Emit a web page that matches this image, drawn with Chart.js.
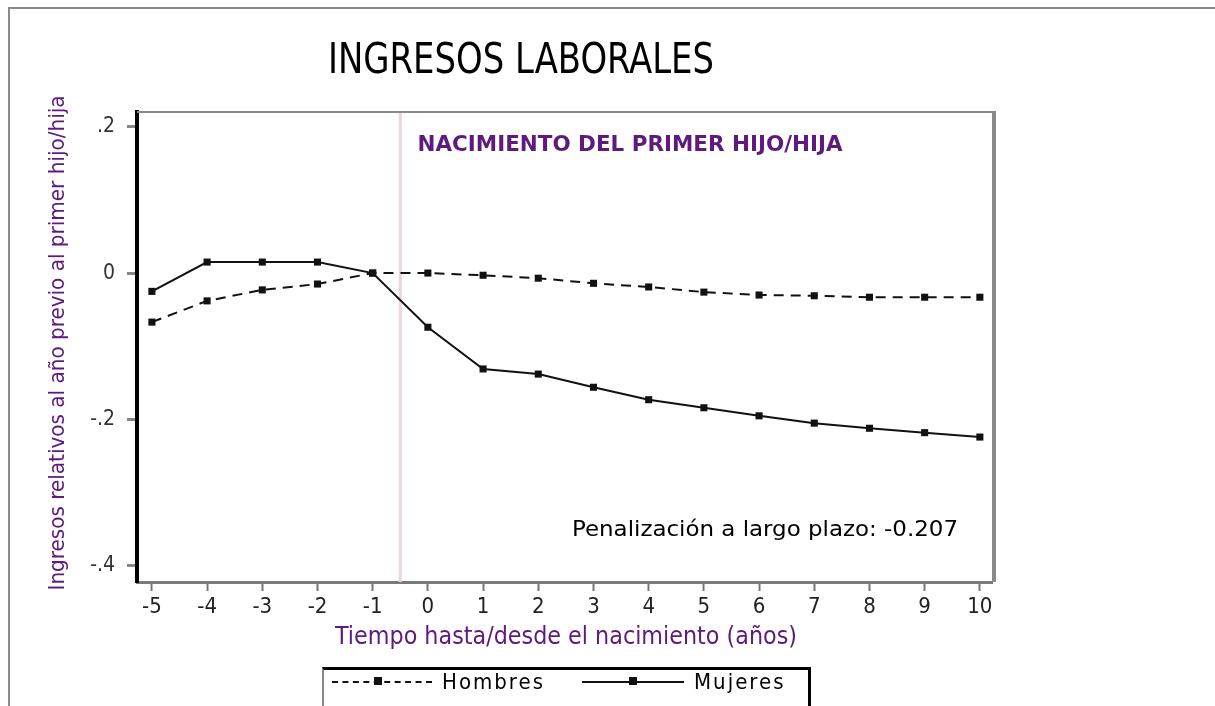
<!DOCTYPE html>
<html>
<head>
<meta charset="utf-8">
<script src="https://cdn.jsdelivr.net/npm/chart.js@4/dist/chart.umd.min.js"></script>
<style>
  html, body { margin: 0; padding: 0; background: #fff; }
  #wrap { position: relative; width: 1215px; height: 706px; overflow: hidden; }
  #frame { position: absolute; left: 8px; top: 7px; width: 1215px; height: 720px;
           border-left: 2px solid #8a8a8a; border-top: 2px solid #8a8a8a; }
  #chart { position: absolute; left: 0; top: 0; }
  #legend { position: absolute; left: 322px; top: 667px; width: 484px; height: 60px;
            border-top: 3px solid #000; border-right: 3px solid #000; border-left: 2px solid #888;
            font-family: 'Liberation Sans Narrow', 'DejaVu Sans Condensed', sans-serif; font-size: 22px; color: #000; }
  .sample { position: absolute; top: 11px; height: 0; }
  .mk { position: absolute; top: 7px; width: 8px; height: 8px; background: #111; }
  .lbl { position: absolute; top: 0; line-height: 24px; letter-spacing: 2px; }
</style>
</head>
<body>
<div id="wrap">
  <div id="frame"></div>
  <canvas id="chart" width="1215" height="706"></canvas>
  <div id="legend">
    <div class="sample" style="left:8px;width:100px;border-top:2px dashed #111;"></div>
    <div class="mk" style="left:50px;"></div>
    <div class="lbl" style="left:118px;">Hombres</div>
    <div class="sample" style="left:258px;width:102px;border-top:2px solid #111;"></div>
    <div class="mk" style="left:305px;"></div>
    <div class="lbl" style="left:370px;">Mujeres</div>
  </div>
</div>
<script>
// años relativos al nacimiento del primer hijo
const anios = [-5, -4, -3, -2, -1, 0, 1, 2, 3, 4, 5, 6, 7, 8, 9, 10];
const hombres = [-0.067, -0.038, -0.023, -0.015, 0, 0, -0.003, -0.007, -0.014, -0.019, -0.026, -0.030, -0.031, -0.033, -0.033, -0.033];
const mujeres = [-0.025, 0.015, 0.015, 0.015, 0, -0.074, -0.131, -0.138, -0.156, -0.173, -0.184, -0.195, -0.205, -0.212, -0.218, -0.224];
const yTicks = [-0.4, -0.2, 0, 0.2];
const yTickLabels = ['-.4', '-.2', '0', '.2'];
const xTicks = anios;
const lineaNacimiento = -0.5;

const titulo = 'INGRESOS LABORALES';
const anotacion = 'NACIMIENTO DEL PRIMER HIJO/HIJA';
const penalizacion = 'Penalización a largo plazo: -0.207';
const tituloX = 'Tiempo hasta/desde el nacimiento (años)';
const tituloY = 'Ingresos relativos al año previo al primer hijo/hija';

const morado = '#5e1a7c';
const fuente = "'Liberation Sans Narrow', 'DejaVu Sans Condensed', sans-serif";

// dibuja un texto ajustado a un ancho dado
function textoAjustado(ctx, txt, cx, cy, ancho, size, color, bold, rot) {
  ctx.save();
  ctx.font = (bold ? 'bold ' : '') + size + 'px ' + fuente;
  ctx.fillStyle = color;
  ctx.textAlign = 'center';
  ctx.textBaseline = 'middle';
  const w = ctx.measureText(txt).width;
  ctx.translate(cx, cy);
  if (rot) ctx.rotate(rot);
  ctx.scale(ancho / w, 1);
  ctx.fillText(txt, 0, 0);
  ctx.restore();
}

const extras = {
  id: 'extras',
  beforeDatasetsDraw(chart) {
    const ctx = chart.ctx;
    const a = chart.chartArea;
    const x = chart.scales.x.getPixelForValue(lineaNacimiento);
    ctx.save();
    ctx.strokeStyle = '#ecd3dd';
    ctx.lineWidth = 3;
    ctx.beginPath();
    ctx.moveTo(x, a.top);
    ctx.lineTo(x, a.bottom);
    ctx.stroke();
    // marco superior y derecho
    ctx.strokeStyle = '#8a8a8a';
    ctx.lineWidth = 2;
    ctx.beginPath();
    ctx.moveTo(a.left, a.top);
    ctx.lineTo(a.right, a.top);
    ctx.stroke();
    ctx.lineWidth = 4;
    ctx.beginPath();
    ctx.moveTo(a.right + 2, a.top - 1);
    ctx.lineTo(a.right + 2, a.bottom);
    ctx.stroke();
    ctx.restore();
  },
  afterDraw(chart) {
    const ctx = chart.ctx;
    textoAjustado(ctx, titulo, 521, 62, 386, 42, '#000', false);
    textoAjustado(ctx, anotacion, 630, 145, 425, 22, morado, true);
    textoAjustado(ctx, penalizacion, 765, 530, 386, 22, '#000', false);
    textoAjustado(ctx, tituloX, 566, 638, 462, 24, morado, false);
    textoAjustado(ctx, tituloY, 58, 343, 495, 22, morado, false, -Math.PI / 2);
  }
};

new Chart(document.getElementById('chart'), {
  type: 'line',
  data: {
    datasets: [
      {
        label: 'Hombres',
        data: anios.map((a, i) => ({ x: a, y: hombres[i] })),
        borderColor: '#111',
        borderWidth: 2,
        borderDash: [10, 7],
        pointStyle: 'rect',
        pointRadius: 5,
        pointBackgroundColor: '#111',
        pointBorderWidth: 0,
        tension: 0
      },
      {
        label: 'Mujeres',
        data: anios.map((a, i) => ({ x: a, y: mujeres[i] })),
        borderColor: '#111',
        borderWidth: 2,
        pointStyle: 'rect',
        pointRadius: 5,
        pointBackgroundColor: '#111',
        pointBorderWidth: 0,
        tension: 0
      }
    ]
  },
  options: {
    responsive: false,
    animation: false,
    layout: { padding: { top: 112, right: 223, left: 0, bottom: 0 } },
    plugins: { legend: { display: false }, tooltip: { enabled: false } },
    scales: {
      x: {
        type: 'linear',
        min: -5.27,
        max: 10.22,
        afterFit(s) { s.height = 124; },
        afterBuildTicks(s) { s.ticks = xTicks.map(v => ({ value: v })); },
        ticks: {
          color: '#222',
          padding: 3,
          font: { family: fuente, size: 22 },
          callback: v => String(v)
        },
        grid: { drawOnChartArea: false, tickLength: 9, tickColor: '#777', tickWidth: 2 },
        border: { color: '#7a7a7a', width: 3 }
      },
      y: {
        type: 'linear',
        min: -0.422,
        max: 0.22,
        afterFit(s) { s.width = 137; },
        afterBuildTicks(s) { s.ticks = yTicks.map(v => ({ value: v })); },
        ticks: {
          color: '#333',
          padding: 12,
          font: { family: fuente, size: 21 },
          callback: v => yTickLabels[yTicks.indexOf(v)]
        },
        grid: { drawOnChartArea: false, tickLength: 10, tickColor: '#888', tickWidth: 3 },
        border: { color: '#000', width: 4 }
      }
    }
  },
  plugins: [extras]
});
</script>
</body>
</html>
